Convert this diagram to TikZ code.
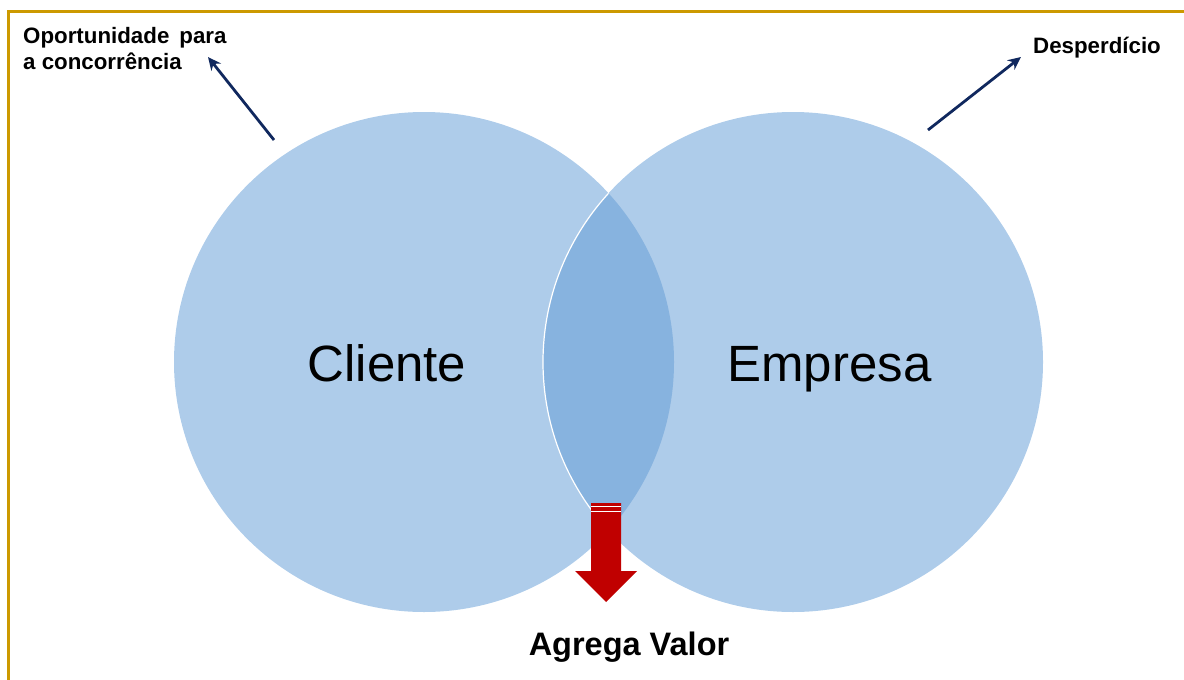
\documentclass[tikz,border=0pt]{standalone}
\usepackage{fontspec}
\setmainfont{Liberation Sans}
\usetikzlibrary{arrows.meta}
\definecolor{circfill}{RGB}{174,204,234}
\definecolor{lensfill}{RGB}{135,179,223}
\definecolor{navyline}{RGB}{16,40,94}
\definecolor{goldline}{RGB}{204,153,0}
\definecolor{redarrow}{RGB}{192,0,0}
\tikzset{
  pointer/.style={draw=navyline, line width=2.8pt, -{Stealth[length=13pt,width=12pt]}},
  bigtext/.style={font=\fontsize{51}{60}\selectfont, anchor=base},
  smalllabel/.style={font=\bfseries\fontsize{22.3}{26}\selectfont, anchor=base west, inner sep=0pt},
}
\begin{document}
\begin{tikzpicture}[x=1pt,y=-1pt]
\useasboundingbox (0,0) rectangle (1184,680);
% frame
\draw[goldline, line width=2.2pt] (8.5,680) -- (8.5,11.5) -- (1184,11.5);
% circles
\coordinate (cl) at (424,362);
\coordinate (cr) at (793,362);
\fill[circfill] (cl) circle (250);
\fill[circfill] (cr) circle (250);
\begin{scope}
  \clip (cl) circle (250);
  \fill[lensfill] (cr) circle (250);
  \draw[white, line width=1.2pt] (cr) circle (250);
\end{scope}
% texts in circles
\node[bigtext] (cliente) at (387,381) {Cliente};
\node[bigtext] (empresa) at (829.5,381) {Empresa};
% red striped arrow
\fill[redarrow] (591,503) -- (621,503) -- (621,571) -- (637,571) -- (606,602) -- (575,571) -- (591,571) -- cycle;
\draw[white, line width=0.9pt] (591,506.5) -- (621,506.5);
\draw[white, line width=0.9pt] (591,511.5) -- (621,511.5);
\node[font=\bfseries\fontsize{32.5}{38}\selectfont, anchor=base] (valor) at (629,655) {Agrega Valor};
% labels
\node[smalllabel] (oport1) at (23,43) {Oportunidade\hspace{0.45em}para};
\node[smalllabel] (oport2) at (23,69) {a concorrência};
\node[smalllabel] (desp) at (1033,53) {Desperdício};
\coordinate (pl) at (274,140);
\coordinate (pr) at (928,130);
\draw[pointer] (pl) -- (208,57);
\draw[pointer] (pr) -- (1021,57);
\end{tikzpicture}
\end{document}
